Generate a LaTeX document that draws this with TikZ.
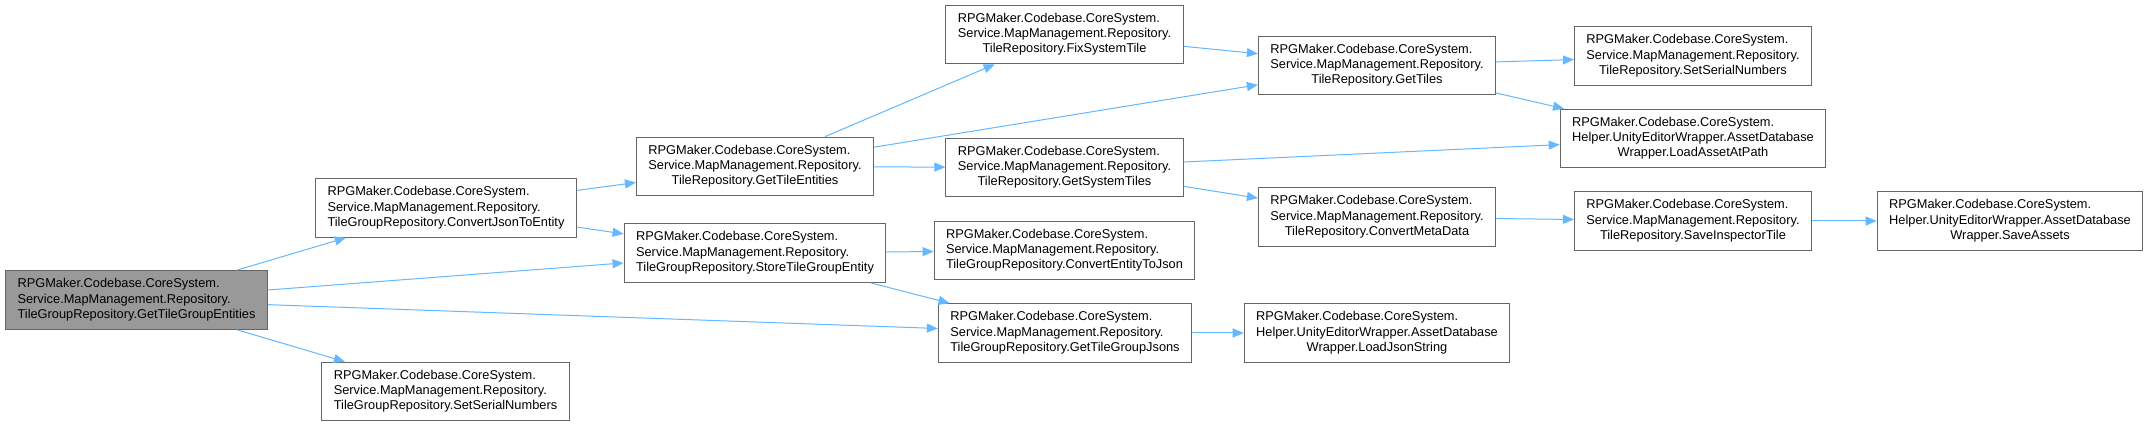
\documentclass[tikz,border=0pt]{standalone}
\usepackage{fontspec}
\setmainfont{Liberation Sans}
\usetikzlibrary{arrows.meta}
\definecolor{edgeblue}{HTML}{63B8FF}
\definecolor{boxgray}{HTML}{666666}
\definecolor{rootgray}{HTML}{999999}
% three-line label: two left lines, last line centred
\newcommand{\fnlabel}[3]{\begin{tabular}{@{}l@{}}#1\\#2\\\multicolumn{1}{@{}c@{}}{#3}\end{tabular}}
\tikzset{
  fnbox/.style={draw=boxgray, fill=white, line width=0.5pt, inner xsep=6pt, inner ysep=0pt,
    minimum height=29.3pt, font=\fontsize{6.4}{7.67}\selectfont},
  rootbox/.style={fnbox, fill=rootgray},
  call/.style={draw=edgeblue, line width=0.5pt, -{Triangle[length=5.5pt,width=4.5pt]}}
}
\begin{document}
\begin{tikzpicture}[x=0.5pt,y=-0.5pt]
\fill[white] (0,0) rectangle (2149,427);

\node[rootbox] (root) at (136.5,300) {\fnlabel{RPGMaker.Codebase.CoreSystem.}{Service.MapManagement.Repository.}{TileGroupRepository.GetTileGroupEntities}};

\node[fnbox] (cjte) at (446,208) {\fnlabel{RPGMaker.Codebase.CoreSystem.}{Service.MapManagement.Repository.}{TileGroupRepository.ConvertJsonToEntity}};
\node[fnbox] (tgssn) at (445.5,391.5) {\fnlabel{RPGMaker.Codebase.CoreSystem.}{Service.MapManagement.Repository.}{TileGroupRepository.SetSerialNumbers}};

\node[fnbox] (gte) at (755,166.5) {\fnlabel{RPGMaker.Codebase.CoreSystem.}{Service.MapManagement.Repository.}{TileRepository.GetTileEntities}};
\node[fnbox] (stge) at (755,253) {\fnlabel{RPGMaker.Codebase.CoreSystem.}{Service.MapManagement.Repository.}{TileGroupRepository.StoreTileGroupEntity}};

\node[fnbox] (fst) at (1064.5,34.5) {\fnlabel{RPGMaker.Codebase.CoreSystem.}{Service.MapManagement.Repository.}{TileRepository.FixSystemTile}};
\node[fnbox] (gst) at (1064.5,167.5) {\fnlabel{RPGMaker.Codebase.CoreSystem.}{Service.MapManagement.Repository.}{TileRepository.GetSystemTiles}};
\node[fnbox] (cetj) at (1064.5,250.5) {\fnlabel{RPGMaker.Codebase.CoreSystem.}{Service.MapManagement.Repository.}{TileGroupRepository.ConvertEntityToJson}};
\node[fnbox] (gtgj) at (1065,333) {\fnlabel{RPGMaker.Codebase.CoreSystem.}{Service.MapManagement.Repository.}{TileGroupRepository.GetTileGroupJsons}};

\node[fnbox] (gt) at (1377,65.5) {\fnlabel{RPGMaker.Codebase.CoreSystem.}{Service.MapManagement.Repository.}{TileRepository.GetTiles}};
\node[fnbox] (cmd) at (1377,217) {\fnlabel{RPGMaker.Codebase.CoreSystem.}{Service.MapManagement.Repository.}{TileRepository.ConvertMetaData}};
\node[fnbox] (ljs) at (1377,333) {\fnlabel{RPGMaker.Codebase.CoreSystem.}{Helper.UnityEditorWrapper.AssetDatabase}{Wrapper.LoadJsonString}};

\node[fnbox] (tssn) at (1693,56) {\fnlabel{RPGMaker.Codebase.CoreSystem.}{Service.MapManagement.Repository.}{TileRepository.SetSerialNumbers}};
\node[fnbox] (laap) at (1693,138.5) {\fnlabel{RPGMaker.Codebase.CoreSystem.}{Helper.UnityEditorWrapper.AssetDatabase}{Wrapper.LoadAssetAtPath}};
\node[fnbox] (sit) at (1693,221) {\fnlabel{RPGMaker.Codebase.CoreSystem.}{Service.MapManagement.Repository.}{TileRepository.SaveInspectorTile}};

\node[fnbox] (sa) at (2010,221) {\fnlabel{RPGMaker.Codebase.CoreSystem.}{Helper.UnityEditorWrapper.AssetDatabase}{Wrapper.SaveAssets}};

% calls
\foreach \a/\b in {root/cjte, root/stge, root/gtgj, root/tgssn, cjte/gte, cjte/stge,
  gte/fst, gte/gt, gte/gst, fst/gt, gst/laap, gst/cmd, stge/cetj, stge/gtgj,
  gtgj/ljs, gt/tssn, gt/laap, cmd/sit, sit/sa}
  \draw[call] (\a) -- (\b);
\end{tikzpicture}
\end{document}
